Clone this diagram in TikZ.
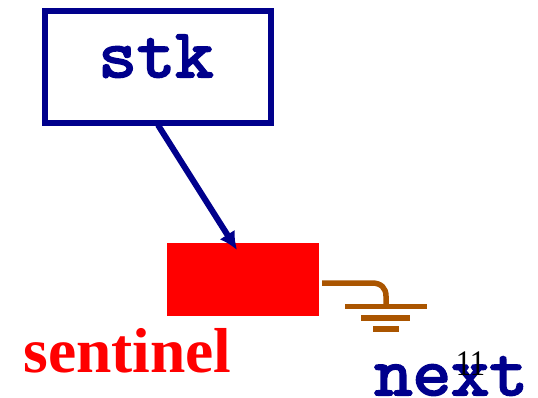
\documentclass[tikz,border=0pt]{standalone}
\usepackage{fontspec}
\setmainfont{Liberation Serif}
\setmonofont[FakeBold=3]{Latin Modern Mono}
\usetikzlibrary{arrows.meta}
\definecolor{navy}{RGB}{0,0,140}
\definecolor{gnd}{RGB}{170,85,0}
\begin{document}
\begin{tikzpicture}[x=1pt,y=-1pt,
 boxst/.style={draw=navy,line width=6pt,fill=white,minimum width=226pt,minimum height=112pt,inner sep=0pt,outer sep=0pt},
 monot/.style={font=\ttfamily\fontsize{69}{69}\selectfont,text=navy,inner sep=0pt,xscale=1.08},
 gndl/.style={draw=gnd,line width=5.5pt}]
\useasboundingbox (0,0) rectangle (538,397);
\node[boxst] (stk) at (158,67) {};
\node[monot,anchor=base] (stkt) at (156,77) {stk};
\node[fill=red,minimum width=152pt,minimum height=73pt,inner sep=0pt,outer sep=0pt] (sent) at (243,279.5) {};
\coordinate (s) at (158,125);
\coordinate (e) at (237,250);
\draw[navy,line width=6pt,-{Latex[length=18pt,width=18pt]}] (s) -- (e);
\coordinate (g0) at (322,283);
\coordinate (g1) at (386,306);
\draw[gndl] (g0) -- (372,283) .. controls (381,283) and (386,288) .. (386,296) -- (g1);
\coordinate (b1l) at (345,306.5); \coordinate (b1r) at (427,306.5);
\coordinate (b2l) at (361,318); \coordinate (b2r) at (410,318);
\coordinate (b3l) at (373,329); \coordinate (b3r) at (399,329);
\draw[gndl] (b1l) -- (b1r);
\draw[gndl] (b2l) -- (b2r);
\draw[gndl] (b3l) -- (b3r);
\node[font=\bfseries\fontsize{63.5}{64}\selectfont,text=red,inner sep=0pt,anchor=base] (lab) at (127.5,372) {sentinel};
\node[monot,anchor=base] (next) at (451,395) {next};
\node[font=\fontsize{36}{36}\selectfont,inner sep=0pt,anchor=base,xscale=.85] (num) at (470.5,375) {11};
\end{tikzpicture}
\end{document}
